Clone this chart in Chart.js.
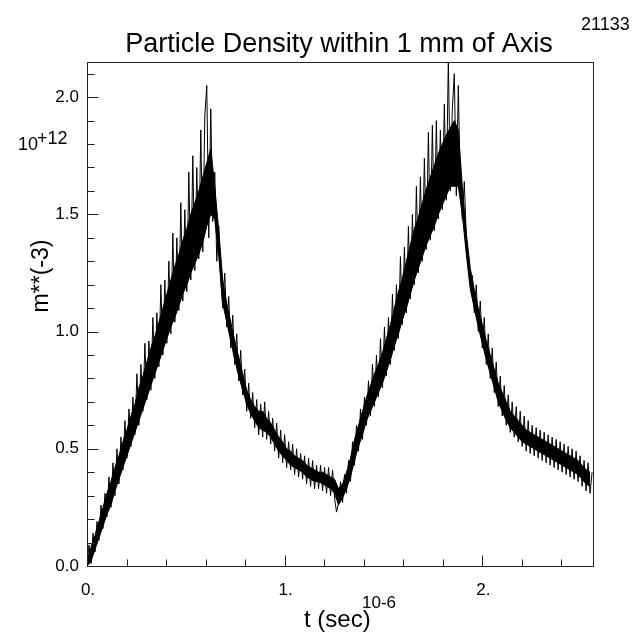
<!DOCTYPE html>
<html><head><meta charset="utf-8">
<script src="https://cdn.jsdelivr.net/npm/chart.js@4.4.0/dist/chart.umd.min.js"></script>
<style>html,body{margin:0;padding:0;background:#fff;overflow:hidden}</style>
</head><body>
<canvas id="c" width="644" height="633"></canvas>
<script>
const titleText = 'Particle Density within 1 mm of Axis';
const runLabel = '21133';
const yAxisTitle = 'm**(-3)';
const yExponent = ['10', '+12'];
const xAxisTitle = 't (sec)';
const xExponent = '10-6';

// time step between samples (units of 10^-6 s)
const tStep = 0.0101;
// particle density samples incl. the fast spikes (units of 10^12 m^-3)
const density = [
  0.00, 0.09, 0.01, 0.14, 0.06, 0.19, 0.11, 0.26, 0.16, 0.31,
  0.21, 0.38, 0.25, 0.44, 0.30, 0.50, 0.35, 0.55, 0.41, 0.62,
  0.46, 0.67, 0.51, 0.72, 0.56, 0.82, 0.60, 0.86, 0.66, 0.95,
  0.71, 0.96, 0.75, 1.06, 0.80, 1.08, 0.85, 1.20, 0.90, 1.22,
  0.95, 1.30, 0.99, 1.42, 1.04, 1.40, 1.09, 1.55, 1.13, 1.52,
  1.17, 1.68, 1.22, 1.75, 1.26, 1.70, 1.31, 1.86, 1.34, 1.92,
  2.05, 1.40, 1.95, 1.47, 1.68, 1.30, 1.45, 1.22, 1.10, 1.25,
  1.02, 1.15, 0.93, 1.07, 0.86, 0.99, 0.79, 0.92, 0.73, 0.84,
  0.66, 0.78, 0.63, 0.74, 0.59, 0.71, 0.56, 0.69, 0.55, 0.70,
  0.54, 0.66, 0.52, 0.63, 0.49, 0.61, 0.46, 0.58, 0.44, 0.56,
  0.42, 0.53, 0.41, 0.52, 0.39, 0.50, 0.38, 0.48, 0.37, 0.47,
  0.35, 0.46, 0.34, 0.45, 0.33, 0.43, 0.33, 0.43, 0.32, 0.42,
  0.31, 0.42, 0.30, 0.41, 0.29, 0.23, 0.27, 0.36, 0.27, 0.39,
  0.31, 0.45, 0.36, 0.53, 0.43, 0.60, 0.49, 0.67, 0.54, 0.72,
  0.60, 0.79, 0.64, 0.86, 0.68, 0.90, 0.72, 0.97, 0.76, 1.02,
  0.81, 1.06, 0.86, 1.16, 0.92, 1.20, 0.97, 1.32, 1.03, 1.36,
  1.08, 1.45, 1.14, 1.50, 1.20, 1.62, 1.25, 1.66, 1.30, 1.74,
  1.35, 1.85, 1.39, 1.88, 1.43, 1.90, 1.48, 1.86, 1.52, 1.97,
  1.56, 2.17, 1.60, 1.95, 2.10, 1.58, 2.05, 1.60, 1.48, 1.64,
  1.40, 1.28, 1.20, 1.24, 1.08, 1.20, 1.00, 1.13, 0.93, 1.06,
  0.86, 0.99, 0.80, 0.93, 0.74, 0.87, 0.68, 0.81, 0.64, 0.77,
  0.60, 0.73, 0.57, 0.70, 0.55, 0.68, 0.53, 0.66, 0.51, 0.64,
  0.49, 0.62, 0.48, 0.60, 0.47, 0.59, 0.46, 0.58, 0.45, 0.57,
  0.44, 0.56, 0.43, 0.55, 0.42, 0.54, 0.41, 0.53, 0.40, 0.52,
  0.39, 0.51, 0.38, 0.50, 0.37, 0.49, 0.36, 0.47, 0.34, 0.45,
  0.32, 0.44, 0.31, 0.40
];

// lower / upper edge of the dense oscillation band, sampled every 2 steps
const bandStep = 0.0202;
const bandLower = [
  0.00, 0.02, 0.07, 0.12, 0.17, 0.22, 0.26, 0.32, 0.37, 0.42,
  0.47, 0.52, 0.57, 0.62, 0.67, 0.72, 0.77, 0.82, 0.87, 0.92,
  0.97, 1.02, 1.06, 1.11, 1.16, 1.20, 1.25, 1.29, 1.33, 1.38,
  1.45, 1.50, 1.48, 1.32, 1.12, 1.04, 0.96, 0.88, 0.81, 0.75,
  0.69, 0.65, 0.62, 0.59, 0.58, 0.57, 0.55, 0.52, 0.49, 0.47,
  0.45, 0.43, 0.42, 0.41, 0.40, 0.38, 0.37, 0.36, 0.36, 0.35,
  0.34, 0.33, 0.31, 0.26, 0.29, 0.33, 0.38, 0.45, 0.51, 0.56,
  0.62, 0.66, 0.70, 0.74, 0.78, 0.83, 0.88, 0.94, 0.99, 1.05,
  1.10, 1.16, 1.22, 1.27, 1.32, 1.37, 1.41, 1.45, 1.50, 1.54,
  1.58, 1.62, 1.62, 1.62, 1.50, 1.33, 1.18, 1.10, 1.02, 0.95,
  0.88, 0.82, 0.76, 0.70, 0.66, 0.62, 0.59, 0.57, 0.55, 0.53,
  0.52, 0.51, 0.50, 0.49, 0.48, 0.47, 0.46, 0.45, 0.44, 0.43,
  0.42, 0.41, 0.40, 0.39, 0.37, 0.35, 0.34
];
const bandUpper = [
  0.02, 0.08, 0.13, 0.19, 0.25, 0.31, 0.36, 0.42, 0.47, 0.53,
  0.58, 0.64, 0.69, 0.76, 0.81, 0.87, 0.93, 0.98, 1.04, 1.10,
  1.16, 1.22, 1.28, 1.33, 1.39, 1.44, 1.50, 1.55, 1.60, 1.66,
  1.72, 1.78, 1.62, 1.43, 1.22, 1.12, 1.04, 0.96, 0.89, 0.82,
  0.75, 0.71, 0.68, 0.66, 0.66, 0.63, 0.61, 0.58, 0.55, 0.53,
  0.50, 0.49, 0.47, 0.46, 0.45, 0.43, 0.42, 0.41, 0.40, 0.40,
  0.39, 0.38, 0.37, 0.33, 0.35, 0.40, 0.46, 0.54, 0.60, 0.66,
  0.72, 0.77, 0.82, 0.86, 0.91, 0.97, 1.03, 1.10, 1.17, 1.23,
  1.30, 1.37, 1.44, 1.49, 1.55, 1.61, 1.66, 1.71, 1.76, 1.80,
  1.84, 1.87, 1.90, 1.86, 1.62, 1.42, 1.27, 1.18, 1.10, 1.03,
  0.96, 0.90, 0.84, 0.78, 0.74, 0.70, 0.66, 0.64, 0.62, 0.60,
  0.58, 0.57, 0.56, 0.55, 0.54, 0.53, 0.52, 0.51, 0.50, 0.49,
  0.48, 0.47, 0.46, 0.45, 0.43, 0.41, 0.40
];

const xTickValues = [0, 1, 2];
const xTickLabels = ['0.', '1.', '2.'];
const xMinorTicks = [0.2, 0.4, 0.6, 0.8, 1.2, 1.4, 1.6, 1.8, 2.2, 2.4];
const yTickValues = [0, 0.5, 1, 1.5, 2];
const yTickLabels = ['0.0', '0.5', '1.0', '1.5', '2.0'];
const yMinorTicks = [0.1, 0.2, 0.3, 0.4, 0.6, 0.7, 0.8, 0.9, 1.1, 1.2, 1.3, 1.4, 1.6, 1.7, 1.8, 1.9, 2.1];

const FONT = '"Liberation Sans", Arial, Helvetica, sans-serif';

const decor = {
  id: 'decor',
  afterDraw(chart) {
    const { ctx, chartArea: a, scales: { x, y } } = chart;
    ctx.save();
    ctx.strokeStyle = '#222';
    ctx.lineWidth = 1;
    const L = Math.round(a.left) + 0.5, R = Math.round(a.right) + 0.5;
    const T = Math.round(a.top) + 0.5, B = Math.round(a.bottom) + 0.5;
    ctx.strokeRect(L, T, R - L, B - T);
    ctx.beginPath();
    yTickValues.forEach(v => { const p = Math.round(y.getPixelForValue(v)) + 0.5; ctx.moveTo(L, p); ctx.lineTo(L + 11, p); });
    yMinorTicks.forEach(v => { const p = Math.round(y.getPixelForValue(v)) + 0.5; ctx.moveTo(L, p); ctx.lineTo(L + 7, p); });
    xTickValues.forEach(v => { const p = Math.round(x.getPixelForValue(v)) + 0.5; ctx.moveTo(p, B); ctx.lineTo(p, B - 11); });
    xMinorTicks.forEach(v => { const p = Math.round(x.getPixelForValue(v)) + 0.5; ctx.moveTo(p, B); ctx.lineTo(p, B - 7); });
    ctx.stroke();

    ctx.fillStyle = '#000';
    ctx.font = '17px ' + FONT;
    ctx.textAlign = 'right';
    ctx.textBaseline = 'middle';
    yTickLabels.forEach((lbl, i) => ctx.fillText(lbl, 79, y.getPixelForValue(yTickValues[i])));
    ctx.textAlign = 'center';
    ctx.textBaseline = 'alphabetic';
    xTickLabels.forEach((lbl, i) => ctx.fillText(lbl, x.getPixelForValue(xTickValues[i]) + 1, 595));

    // title
    ctx.font = '27px ' + FONT;
    ctx.textAlign = 'center';
    ctx.fillText(titleText, 339, 52);

    // run label
    ctx.font = '18px ' + FONT;
    ctx.textAlign = 'left';
    ctx.fillText(runLabel, 581, 30);

    // y exponent
    ctx.font = '18px ' + FONT;
    ctx.fillText(yExponent[0], 18, 150);
    ctx.fillText(yExponent[1], 37, 144);

    // x title + exponent
    ctx.font = '24px ' + FONT;
    ctx.fillText(xAxisTitle, 304, 627);
    ctx.font = '17px ' + FONT;
    ctx.fillText(xExponent, 362, 608);

    // y title
    ctx.save();
    ctx.translate(48, 276);
    ctx.rotate(-Math.PI / 2);
    ctx.font = '23px ' + FONT;
    ctx.textAlign = 'center';
    ctx.fillText(yAxisTitle, 0, 0);
    ctx.restore();
    ctx.restore();
  }
};

new Chart(document.getElementById('c'), {
  type: 'line',
  data: {
    datasets: [{
      data: bandLower.map((v, i) => ({ x: i * bandStep, y: v })),
      borderColor: '#000', borderWidth: 1, pointRadius: 0, tension: 0, fill: false
    }, {
      data: bandUpper.map((v, i) => ({ x: i * bandStep, y: v })),
      borderColor: '#000', borderWidth: 1, pointRadius: 0, tension: 0,
      fill: '-1', backgroundColor: '#000'
    }, {
      data: density.map((v, i) => ({ x: i * tStep, y: v })),
      borderColor: '#000', borderWidth: 1, pointRadius: 0, tension: 0, fill: false
    }]
  },
  options: {
    responsive: false,
    animation: false,
    devicePixelRatio: 1,
    layout: { padding: { left: 0, right: 51, top: 62, bottom: 0 } },
    plugins: { legend: { display: false }, title: { display: false }, tooltip: { enabled: false } },
    scales: {
      x: {
        type: 'linear', min: 0, max: 2.56,
        ticks: { display: false }, grid: { display: false }, border: { display: false },
        afterFit: s => { s.height = 67; }
      },
      y: {
        type: 'linear', min: 0, max: 2.15,
        ticks: { display: false }, grid: { display: false }, border: { display: false },
        afterFit: s => { s.width = 87; }
      }
    }
  },
  plugins: [decor]
});
</script>
</body></html>
